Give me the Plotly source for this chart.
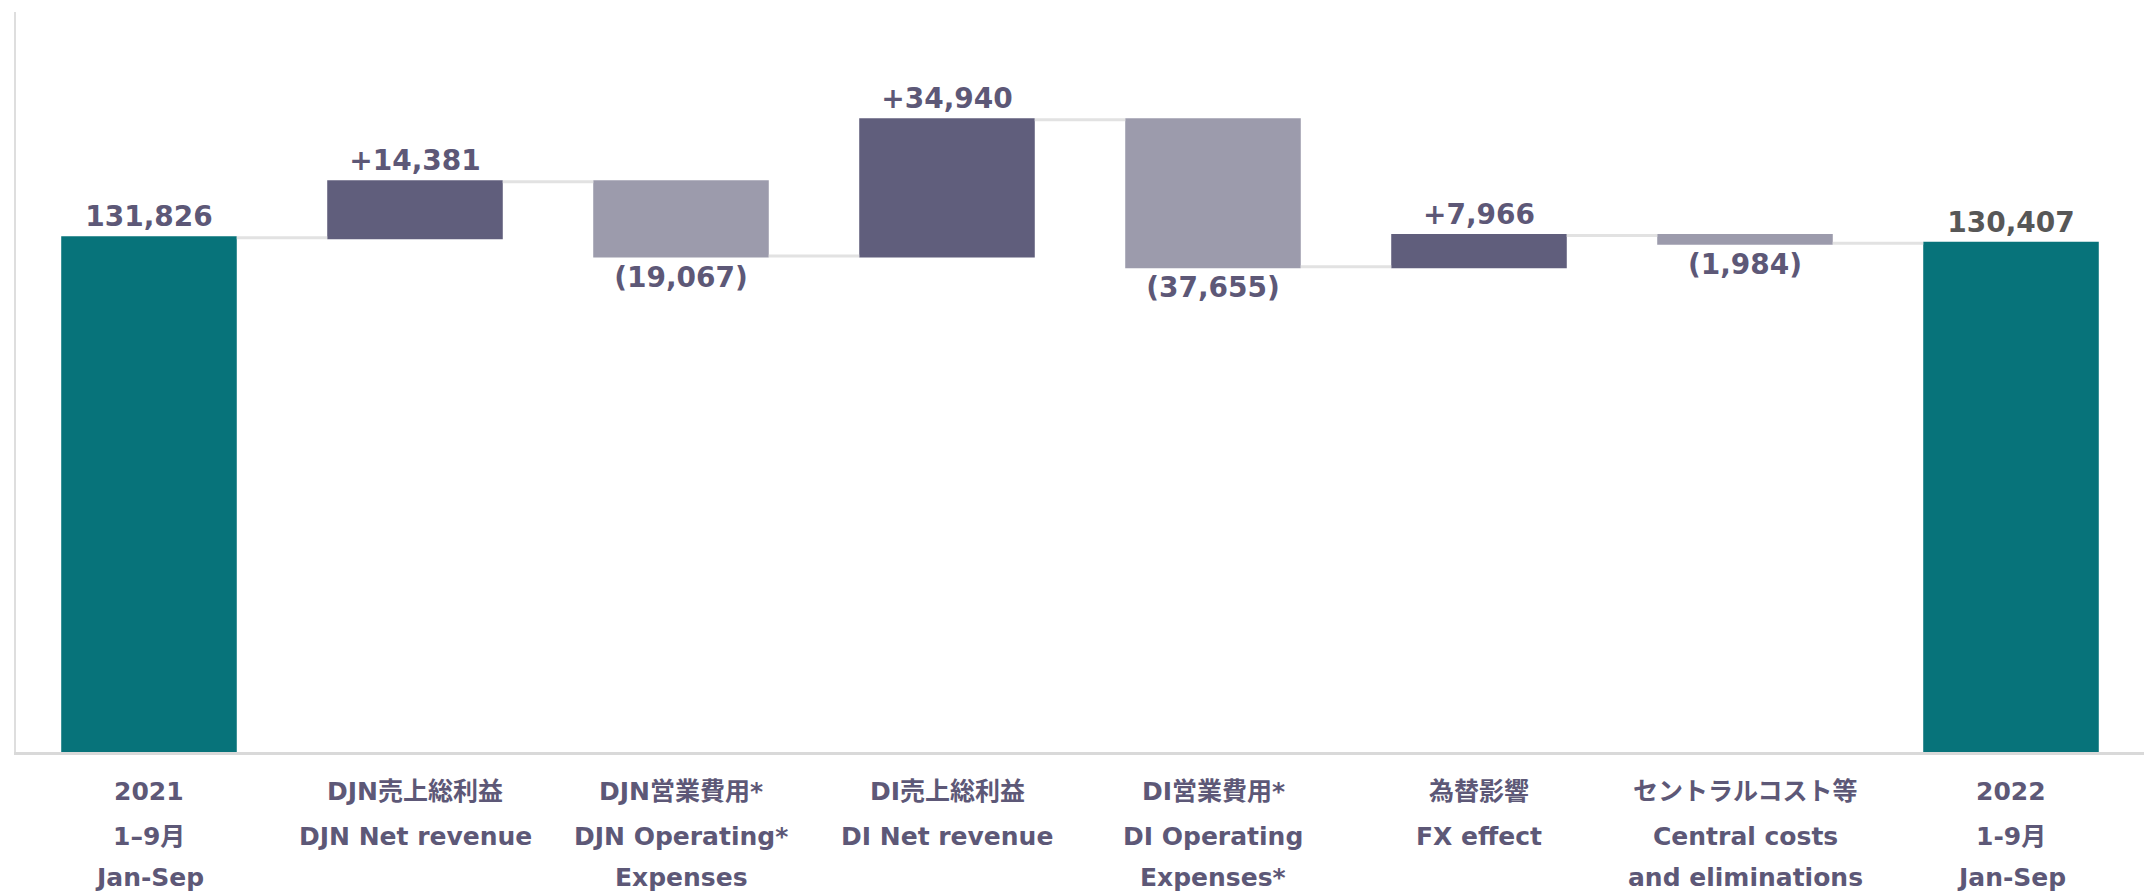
import plotly.graph_objects as go

# ---- data ----
line1 = ["2021", "DJN売上総利益", "DJN営業費用*", "DI売上総利益", "DI営業費用*", "為替影響", "セントラルコスト等", "2022"]
line2 = ["1–9月", "DJN Net revenue", "DJN Operating*", "DI Net revenue", "DI Operating", "FX effect", "Central costs", "1-9月"]
line3 = ["Jan-Sep", "", "Expenses", "", "Expenses*", "", "and eliminations", "Jan-Sep"]
measures = ["absolute", "relative", "relative", "relative", "relative", "relative", "relative", "total"]
values = [131826, 14381, -19067, 34940, -37655, 7966, -1984, 0]
value_labels = ["131,826", "+14,381", "(19,067)", "+34,940", "(37,655)", "+7,966", "(1,984)", "130,407"]

cats = [f"c{i}" for i in range(len(line1))]

PURPLE_TEXT = "#5d5877"
label_colors = [PURPLE_TEXT] * 7 + ["#575757"]
FONT = "DejaVu Sans, Noto Sans CJK JP"

fig = go.Figure(go.Waterfall(
    x=cats,
    measure=measures,
    y=values,
    text=[f"<b>{t}</b>" for t in value_labels],
    textposition="outside",
    textfont=dict(family=FONT, size=28, color=label_colors),
    increasing=dict(marker=dict(color="#605e7c")),
    decreasing=dict(marker=dict(color="#9c9bac")),
    totals=dict(marker=dict(color="#07737a")),
    connector=dict(line=dict(color="#e2e2e2", width=3)),
    cliponaxis=False,
    hoverinfo="skip",
))

annotations = []
H = 740.0
for rows, ypix in ((line1, 40), (line2, 84), (line3, 125)):
    for c, t in zip(cats, rows):
        if not t:
            continue
        annotations.append(dict(
            x=c, xref="x", y=-ypix / H, yref="paper", text=f"<b>{t}</b>",
            showarrow=False, xanchor="center", yanchor="middle",
            font=dict(family=FONT, size=25, color=PURPLE_TEXT),
        ))

fig.update_layout(
    width=2148, height=893,
    margin=dict(l=16, r=4, t=12, b=141),
    paper_bgcolor="white", plot_bgcolor="white",
    showlegend=False,
    waterfallgap=0.34,
    annotations=annotations,
    font=dict(family=FONT, color=PURPLE_TEXT),
)
fig.update_xaxes(showticklabels=False, showline=True, linecolor="#d9d9d9", linewidth=3,
                 showgrid=False, zeroline=False, ticks="")
fig.update_yaxes(range=[0, 189700], showticklabels=False, showline=True, linecolor="#dedede",
                 linewidth=2, showgrid=False, zeroline=False, ticks="")

fig.write_html("out.html", config={"displayModeBar": False},
               post_script="document.body.style.margin='0';document.body.style.overflow='hidden';")
